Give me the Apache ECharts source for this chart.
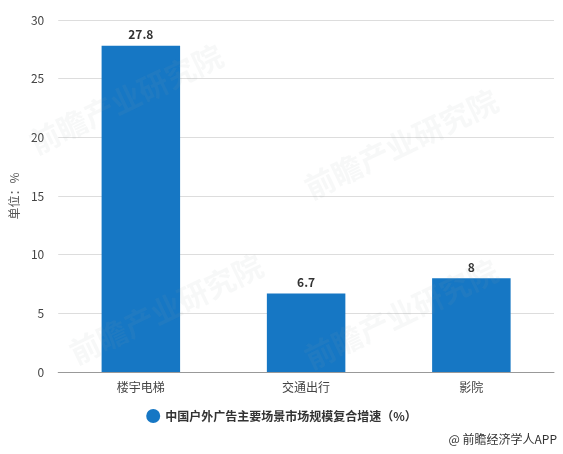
<!DOCTYPE html>
<html><head><meta charset="utf-8">
<script src="https://cdn.jsdelivr.net/npm/echarts@6/dist/echarts.min.js"></script>
<style>html,body{margin:0;padding:0;background:#fff}#c{width:563px;height:454px}</style>
</head><body><div id="c"></div>
<script>
var categories = ['楼宇电梯', '交通出行', '影院'];
var values = [27.8, 6.7, 8];
var seriesName = '中国户外广告主要场景市场规模复合增速（%）';
var yTicks = [0, 5, 10, 15, 20, 25, 30];

var chart = echarts.init(document.getElementById('c'));
var wm = function (x, y) {
  return {type: 'text', left: x, top: y, rotation: Math.PI / 7, z: 100, silent: true,
    style: {text: '前瞻产业研究院', fontSize: 30, fontWeight: 'bold', fill: 'rgba(150,160,170,0.08)', fontFamily: 'Noto Sans CJK SC'}};
};
chart.setOption({
  animation: false,
  textStyle: {fontFamily: '"Microsoft YaHei","Noto Sans CJK SC",sans-serif'},
  grid: {left: 55, right: 9, top: 20, bottom: 82},
  legend: {bottom: 26, left: 'center', itemWidth: 14, itemHeight: 14, icon: 'circle',
    textStyle: {fontSize: 12, color: '#333', fontWeight: 'bold'}, data: [seriesName]},
  xAxis: {type: 'category', data: categories,
    axisLine: {lineStyle: {color: '#999'}}, axisTick: {alignWithLabel: true, lineStyle: {color: '#999'}},
    axisLabel: {color: '#444', fontSize: 12, margin: 9}},
  yAxis: {type: 'value', min: 0, max: 30, interval: 5, name: '单位：%', nameLocation: 'middle', nameGap: 35,
    nameTextStyle: {color: '#555', fontSize: 12},
    axisLine: {show: false}, axisTick: {show: false},
    axisLabel: {color: '#444', fontSize: 12, margin: 14},
    splitLine: {lineStyle: {color: '#ddd'}}},
  series: [{name: seriesName, type: 'bar', data: values, barWidth: '47.5%',
    itemStyle: {color: '#1677c4'},
    label: {show: true, position: 'top', color: '#333', fontWeight: 'bold', fontSize: 12, distance: 5}}],
  graphic: [
    wm(25, 40), wm(300, 85), wm(65, 250), wm(300, 255),
    {type: 'text', right: 6, top: 433, style: {text: '@ 前瞻经济学人APP', fontSize: 12, fill: '#333', fontFamily: 'Noto Sans CJK SC'}}
  ]
});
</script></body></html>
